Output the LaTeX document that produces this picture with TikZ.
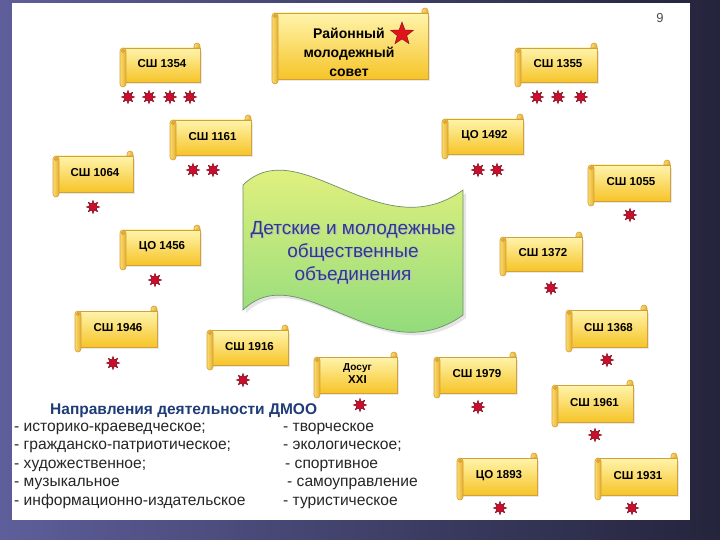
\documentclass[tikz,border=0pt]{standalone}
\usepackage{fontspec}
\setmainfont{Liberation Sans}
\usetikzlibrary{shapes.geometric}
\definecolor{bgL}{HTML}{5E5E9A}
\definecolor{bgR}{HTML}{24243C}
\definecolor{scrolltop}{HTML}{FFF4AC}
\definecolor{scrollbot}{HTML}{F6C428}
\definecolor{scrollline}{HTML}{D3A03A}
\definecolor{rollA}{HTML}{FBDB70}
\definecolor{rollB}{HTML}{E6AE2E}
\definecolor{starred}{HTML}{C8102E}
\definecolor{stardark}{HTML}{7A0A1A}
\definecolor{bigstar}{HTML}{E0151B}
\definecolor{bannerTop}{HTML}{F3F57E}
\definecolor{bannerBot}{HTML}{7DD67C}
\definecolor{bannerLine}{HTML}{6F8F6A}
\definecolor{titleblue}{HTML}{2B3A8F}
\definecolor{headblue}{HTML}{1F3C78}
\definecolor{listgrey}{HTML}{262626}
\tikzset{
  panel/.style={draw=scrollline, line width=0.6pt, top color=scrolltop, bottom color=scrollbot},
  roll/.style={draw=scrollline, line width=0.6pt, left color=rollA, right color=rollB},
  curl/.style={draw=scrollline, line width=0.5pt, fill=rollB},
  lbl/.style={font=\bfseries\fontsize{11.5}{13}\selectfont, text=black, align=center, inner sep=0pt},
  mark8/.style={star, star points=8, star point ratio=2, minimum size=13.5pt, inner sep=0pt, fill=starred, draw=stardark, line width=0.4pt},
  banner/.style={draw=bannerLine, line width=0.7pt, top color=bannerTop, bottom color=bannerBot},
  listtxt/.style={font=\fontsize{15.6}{18}\selectfont, text=listgrey, anchor=base west, inner sep=0pt},
}
\newcommand\scrl[6]{%
  \fill[black!9] ({#2+4},{#3+8}) rectangle ({#4+2},{#5-3});
  \path[panel] ({#2+3},{#3+5}) rectangle (#4,{#5-5});
  \path[roll] ({#4-6},{#3+5}) -- ({#4-6},{#3+3}) arc[start angle=180,end angle=360,radius=3] -- (#4,{#3+5}) -- cycle;
  \path[roll,rounded corners=3] (#2,{#3+5}) rectangle ({#2+6},#5);
  \path[curl] ({#2+3},{#3+8}) circle[radius=1.8];
  \node[lbl] (#1) at ({(#2+#4)/2+2},{(#3+#5)/2-1}) {#6};
}
\begin{document}
\begin{tikzpicture}[x=1pt,y=-1pt]
\useasboundingbox (0,0) rectangle (720,540);
\fill[left color=bgL, right color=bgR] (0,0) rectangle (720,540);
\fill[white] (12,3) rectangle (690,520);

% central banner
\fill[black!10] (246,188) .. controls (303,133) and (383,253) .. (466,193) -- (466,318) .. controls (383,378) and (303,258) .. (246,313) -- cycle;
\path[banner] (243,185) .. controls (300,130) and (380,250) .. (463,190) -- (463,315) .. controls (380,375) and (300,255) .. (243,310) -- cycle;
\node[font=\fontsize{19}{23}\selectfont, text=black!25, align=center] (titleshadow) at (354.2,254.2) {Детские и молодежные\\общественные\\объединения};
\node[font=\fontsize{19}{23}\selectfont, text=titleblue, align=center] (title) at (353,253) {Детские и молодежные\\общественные\\объединения};

% council scroll
\scrl{council}{272}{8}{428}{84}{}
\node[font=\bfseries\fontsize{14}{19}\selectfont, align=center, text=black] (counciltext) at (349,52) {Районный\\молодежный\\совет};
\node[star, star points=5, star point ratio=2.4, minimum size=24pt, inner sep=0pt, fill=bigstar, draw=stardark, line width=0.4pt] (rstar) at (402,34) {};

% scrolls
\scrl{s1354}{120}{43}{200}{87}{СШ 1354}
\scrl{s1355}{515}{43}{597}{87}{СШ 1355}
\scrl{s1161}{170}{115}{251}{160}{СШ 1161}
\scrl{c1492}{442}{114}{523}{159}{ЦО 1492}
\scrl{s1064}{53}{151}{133}{197}{СШ 1064}
\scrl{s1055}{588}{160}{670}{206}{СШ 1055}
\scrl{c1456}{120}{225}{200}{270}{ЦО 1456}
\scrl{s1372}{500}{232}{582}{276}{СШ 1372}
\scrl{s1946}{75}{306}{157}{352}{СШ 1946}
\scrl{s1916}{207}{325}{288}{370}{СШ 1916}
\scrl{dosug}{314}{352}{397}{398}{\fontsize{10}{11}\selectfont Досуг\\XXI}
\scrl{s1979}{434}{352}{516}{398}{СШ 1979}
\scrl{s1368}{566}{305}{647}{352}{СШ 1368}
\scrl{s1961}{552}{380}{633}{427}{СШ 1961}
\scrl{c1893}{457}{453}{537}{500}{ЦО 1893}
\scrl{s1931}{595}{453}{677}{500}{СШ 1931}

% markers
\node[mark8] (m1a) at (128,97) {};
\node[mark8] (m1b) at (149,97) {};
\node[mark8] (m1c) at (170,97) {};
\node[mark8] (m1d) at (190,97) {};
\node[mark8] (m3a) at (537,97) {};
\node[mark8] (m3b) at (558,97) {};
\node[mark8] (m3c) at (581,97) {};
\node[mark8] (m4a) at (193,170) {};
\node[mark8] (m4b) at (213,170) {};
\node[mark8] (m5a) at (478,170) {};
\node[mark8] (m5b) at (497,170) {};
\node[mark8] (m6) at (93,207) {};
\node[mark8] (m7) at (630,215) {};
\node[mark8] (m8) at (155,280) {};
\node[mark8] (m9) at (551,288) {};
\node[mark8] (m10) at (113,363) {};
\node[mark8] (m11) at (243,380) {};
\node[mark8] (m12) at (360,405) {};
\node[mark8] (m13) at (478,407) {};
\node[mark8] (m14) at (607,360) {};
\node[mark8] (m15) at (595,435) {};
\node[mark8] (m16) at (500,508) {};
\node[mark8] (m17) at (632,508) {};

% page number
\node[font=\fontsize{13}{15}\selectfont, text=black!70] (pagenum) at (660,18) {9};

% directions
\node[font=\bfseries\fontsize{15.5}{17}\selectfont, text=headblue, anchor=base west, inner sep=0pt] (head) at (50,414) {Направления деятельности ДМОО};
\node[listtxt] (l1) at (14,431) {- историко-краеведческое;};
\node[listtxt] (l2) at (14,449) {- гражданско-патриотическое;};
\node[listtxt] (l3) at (14,468) {- художественное;};
\node[listtxt] (l4) at (14,486) {- музыкальное};
\node[listtxt] (l5) at (14,505) {- информационно-издательское};
\node[listtxt] (r1) at (283,431) {- творческое};
\node[listtxt] (r2) at (283,449) {- экологическое;};
\node[listtxt] (r3) at (285,468) {- спортивное};
\node[listtxt] (r4) at (287,486) {- самоуправление};
\node[listtxt] (r5) at (283,505) {- туристическое};
\end{tikzpicture}
\end{document}
